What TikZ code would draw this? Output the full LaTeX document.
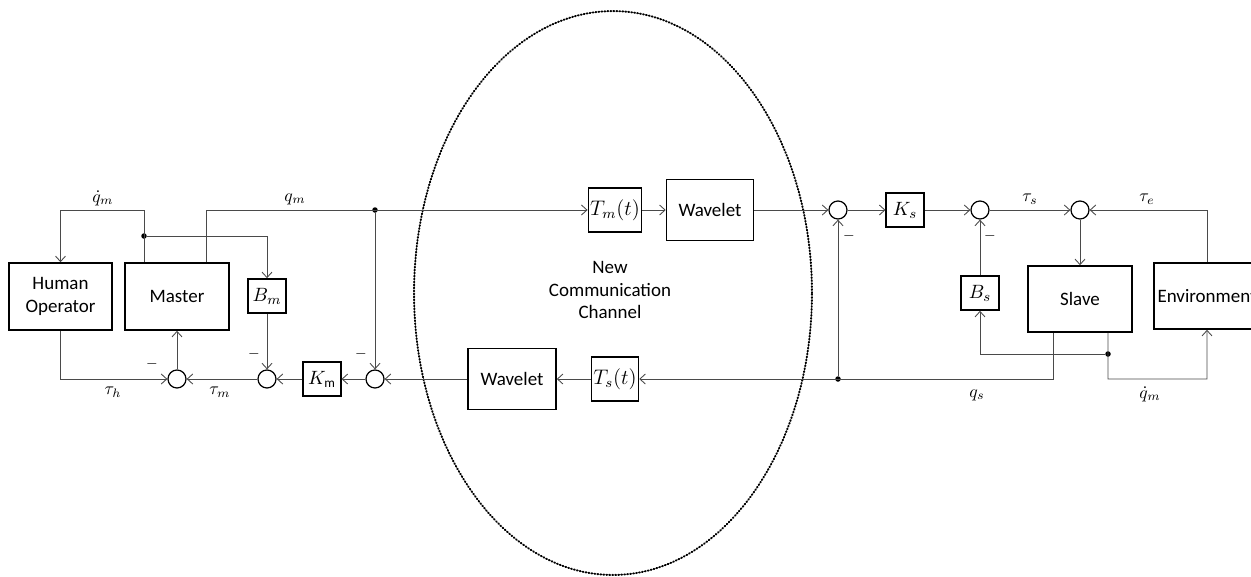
\documentclass[tikz,border=0pt]{standalone}
\usepackage{fontspec}
\setmainfont{Carlito}
\usetikzlibrary{arrows.meta}
\definecolor{linegray}{HTML}{4A4A4A}
\tikzset{
  blk/.style={draw, line width=0.9pt, inner sep=1pt, align=center,
    font=\fontsize{10.8}{13.5}\selectfont},
  smallblk/.style={blk, minimum width=7.5mm, minimum height=6.8mm},
  delayblk/.style={blk, minimum width=9mm, minimum height=8.8mm, font=\large},
  bigblk/.style={blk, minimum width=20.8mm, minimum height=13.4mm},
  sumj/.style={circle, draw, line width=0.7pt, minimum size=3.6mm, inner sep=0pt},
  jdot/.style={circle, fill=black, inner sep=0pt, minimum size=1.1mm},
  sig/.style={draw=linegray, line width=0.5pt, -{Straight Barb[length=1.1mm,width=2mm]}},
  lbl/.style={inner sep=0pt}
}

\begin{document}
\begin{tikzpicture}[x=0.02cm, y=-0.02cm]
  \useasboundingbox (0,0) rectangle (1251,576);
  \clip (0,0) rectangle (1251,576);

  % channel
  \draw[line width=1.1pt, dash pattern=on 0.5pt off 1.2pt, line cap=round]
    (613,293) ellipse [x radius=3.98cm, y radius=5.64cm];
  \node[align=center, font=\fontsize{10.8}{13}\selectfont] (chan) at (610,290)
    {New\\Communication\\Channel};

  % master side
  \node[bigblk, minimum width=20.6mm] (hop) at (60.5,296.5) {Human\\Operator};
  \node[bigblk] (mst) at (177,296.5) {Master};
  \node[smallblk] (bm) at (267,296) {$B_m$};
  \node[smallblk] (km) at (322,379) {$K_{\mathrm{m}}$};

  % links
  \node[delayblk] (tmd) at (615,210) {$T_m(t)$};
  \node[blk, minimum width=17.4mm, minimum height=12.2mm] (wvt) at (710,210) {Wavelet};
  \node[delayblk] (tsd) at (615,379) {$T_s(t)$};
  \node[blk, minimum width=17.6mm, minimum height=12.2mm] (wvb) at (512,379) {Wavelet};

  % slave side
  \node[smallblk] (ks) at (905,210) {$K_s$};
  \node[smallblk] (bs) at (980,293) {$B_s$};
  \node[bigblk, minimum height=13.2mm] (slv) at (1080,299) {Slave};
  \node[bigblk, minimum width=21.2mm, minimum height=13.2mm] (env) at (1207,296) {Environment};

  \foreach \n/\x/\y in {s1/177/379, s2/267/379, s3/375/379,
                        s4/838/210, s5/980/210, s6/1080/210}
    \node[sumj] (\n) at (\x,\y) {};

  \foreach \n/\x/\y in {j1/144/236, j2/375/210, j3/838/379, j4/1108/354}
    \node[jdot] (\n) at (\x,\y) {};

  % master loops
  \draw[sig] (mst.north -| j1) -- (j1 |- j2) -| (hop.north);
  \draw[sig] (j1) -| (bm.north);
  \draw[sig] ([xshift=5.8mm]mst.north) |- (tmd.west);
  \draw[sig] (j2) -- (s3.north);
  \draw[sig] (hop.south) |- (s1.west);
  \draw[sig] (s1) -- (mst.south);
  \draw[sig] (bm) -- (s2);
  \draw[sig] (s2) -- (s1);
  \draw[sig] (km) -- (s2);
  \draw[sig] (s3) -- (km);

  % forward and backward channel
  \draw[sig] (tmd) -- (wvt);
  \draw[sig] (wvt) -- (s4);
  \draw[sig] (tsd) -- (wvb);
  \draw[sig] (wvb) -- (s3);

  % slave loops
  \draw[sig] (s4) -- (ks);
  \draw[sig] (ks) -- (s5);
  \draw[sig] (s5) -- (s6);
  \draw[sig] (s6) -- (slv.north);
  \draw[sig] (env.north) |- (s6.east);
  \draw[sig] ([xshift=-5.4mm]slv.south) |- (tsd.east);
  \draw[sig] (j3) -- (s4.south);
  \draw[sig] ([xshift=5.6mm]slv.south) -- (j4 |- j3) -| (env.south);
  \draw[sig] (j4) -| (bs.south);
  \draw[sig] (bs) -- (s5);

  % signal names
  \foreach \n/\x/\y/\t in {qdm/103/198/{$\dot{q}_m$}, qm/295/199/{$q_m$},
                           tauh/113/392/{$\tau_h$}, taum/220/392/{$\tau_m$},
                           taus/1030/199/{$\tau_s$}, taue/1147/199/{$\tau_e$},
                           qs/977/395/{$q_s$}, qdm2/1150/394/{$\dot{q}_m$}}
    \node[lbl] (l-\n) at (\x,\y) {\t};

  \foreach \n/\x/\y in {m1/152/364, m2/254/354, m3/361/354, m4/849/236, m5/990/236}
    \node[lbl, font=\footnotesize] (\n) at (\x,\y) {$-$};
\end{tikzpicture}
\end{document}
